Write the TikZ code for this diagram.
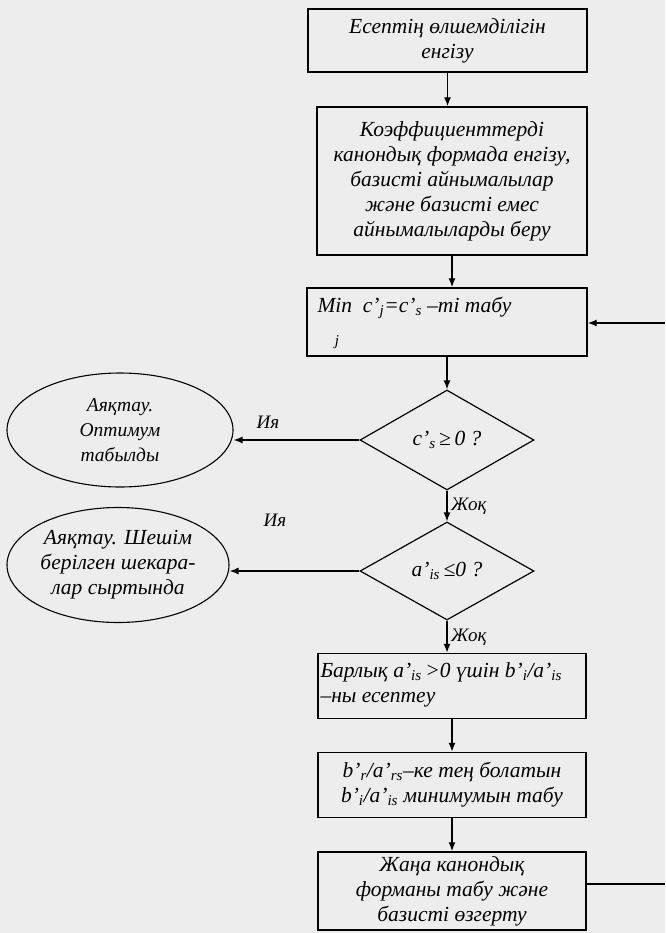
\documentclass[tikz,border=0pt]{standalone}
\usepackage{fontspec}
\setmainfont{Liberation Serif}
\usepackage{tikz}
\usetikzlibrary{shapes.geometric, arrows.meta}

\tikzset{
	>={Latex[length=9pt, width=7pt]},
	block/.style={draw, line width=1.4pt, align=center, inner sep=2pt},
	decide/.style={draw, diamond, line width=1.2pt, inner sep=0pt},
	stop/.style={draw, ellipse, line width=1.1pt, align=center, inner sep=0pt},
	conn/.style={->, line width=1.4pt},
	lbl/.style={font=\fontsize{19}{22}\selectfont\itshape}
}

\begin{document}
\begin{tikzpicture}[x=1pt, y=-1pt, font=\fontsize{21.5}{25}\selectfont\itshape]
		\useasboundingbox [fill=black!7] (0, 0) rectangle (665, 933);
		% main column
		\node [block, minimum width=279pt, minimum height=63pt] (b1) at (447.5, 40.5) {Есептің өлшемділігін\\енгізу};
		\node [block, minimum width=270pt, minimum height=148pt] (b2) at (452, 181) {Коэффициенттерді\\канондық формада енгізу,\\базисті айнымалылар\\және базисті емес\\айнымалыларды беру};
		\node [block, minimum width=280pt, minimum height=68pt] (b3) at (447, 322) {};
		\node [anchor=west] (t3) at (314, 308) {Min~ c'\textsubscript{j}=c'\textsubscript{s} –ті табу};
		\node [font=\fontsize{15}{15}\selectfont\itshape] (j3) at (337, 342) {j};
		\node [decide, minimum width=174pt, minimum height=100pt] (d1) at (447, 440) {c'\textsubscript{s}\,≥\,0 ?};
		\node [decide, minimum width=174pt, minimum height=98pt] (d2) at (447, 571) {a'\textsubscript{is}\,≤0 ?};
		\node [block, minimum width=268pt, minimum height=65pt] (b4) at (452, 686) {};
		\node [anchor=west, align=left] (t4) at (317, 685) {Барлық a'\textsubscript{is}\,>0 үшін b'\textsubscript{i}/a'\textsubscript{is}\\–ны есептеу};
		\node [block, minimum width=268pt, minimum height=65pt] (b5) at (452, 785) {b'\textsubscript{r}/a'\textsubscript{rs}–ке тең болатын\\b'\textsubscript{i}/a'\textsubscript{is} минимумын табу};
		\node [block, minimum width=268pt, minimum height=78pt] (b6) at (452, 891) {Жаңа канондық\\форманы табу және\\базисті өзгерту};
		% exits
		\node [stop, minimum width=226pt, minimum height=114pt, font=\fontsize{19.5}{25}\selectfont\itshape] (e1) at (120, 430) {Аяқтау.\\Оптимум\\табылды};
		\node [stop, minimum width=222pt, minimum height=115pt] (e2) at (118, 565) {Аяқтау. Шешім\\берілген шекара-\\лар сыртында};
		\coordinate (r1) at (665, 323);
		\coordinate (r2) at (665, 884);
		% arrows
		\draw [conn] (b1.south) -- (b1.south |- b2.north);
		\draw [conn] (b2.south) -- (b2.south |- b3.north);
		\draw [conn] (b3.south) -- (d1.north);
		\draw [conn] (d1.south) -- (d2.north) node [pos=0.5, right, lbl] {Жоқ};
		\draw [conn] (d2.south) -- (d2.south |- b4.north) node [pos=0.5, right, lbl] {Жоқ};
		\draw [conn] (b4.south) -- (b4.south |- b5.north);
		\draw [conn] (b5.south) -- (b5.south |- b6.north);
		\draw [conn] (d1.west) -- (e1.east |- d1.west);
		\draw [conn] (d2.west) -- (e2.east |- d2.west);
		\node [lbl] (y1) at (268, 422) {Ия};
		\node [lbl] (y2) at (275, 520) {Ия};
		\draw [conn] (r1) -- (b3.east |- r1);
		\draw [line width=1.4pt] (b6.east |- r2) -- (r2);
	\end{tikzpicture}
\end{document}
